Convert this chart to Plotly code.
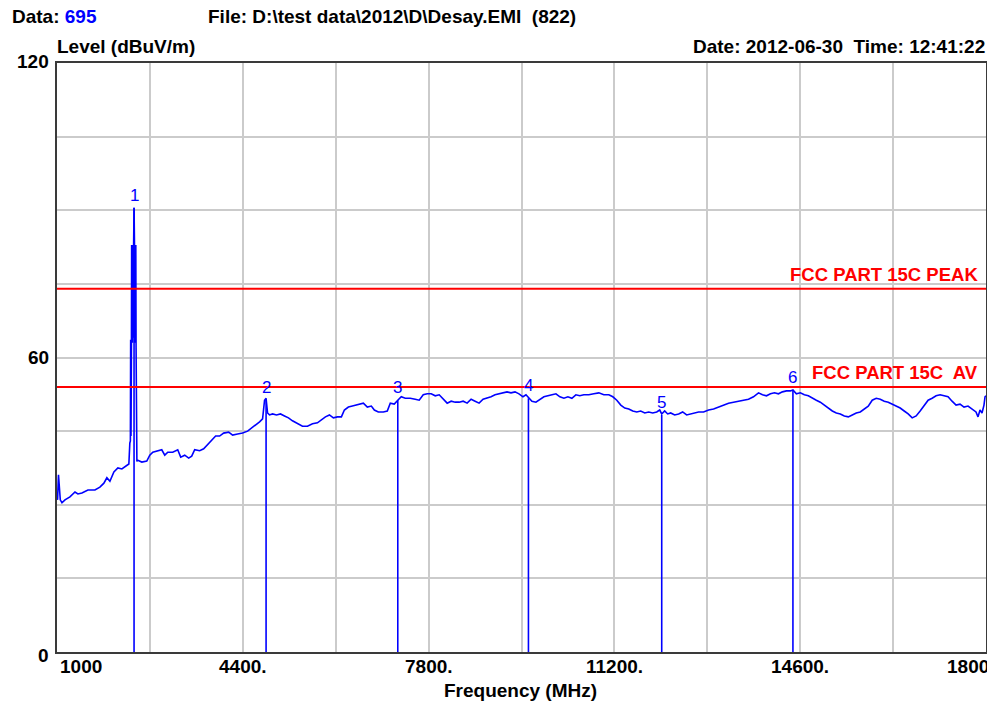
import plotly.graph_objects as go

# ---------------- data ----------------
freq_mhz = [1000, 1010, 1027, 1045, 1060, 1091, 1146, 1237, 1329, 1383, 1456, 1566, 1694, 1785, 1858,
            1913, 1968, 2041, 2114, 2187, 2260, 2315, 2333, 2343, 2348, 2354, 2362, 2366, 2372, 2378,
            2384, 2390, 2396, 2402, 2410, 2418, 2424, 2430, 2436, 2442, 2447, 2452, 2456, 2462, 2470,
            2552, 2643, 2698, 2753, 2844, 2917, 2972, 3027, 3118, 3209, 3264, 3337, 3410, 3465, 3520,
            3611, 3684, 3757, 3830, 3903, 3976, 4049, 4141, 4214, 4305, 4396, 4488, 4561, 4634, 4707,
            4762, 4798, 4826, 4853, 4889, 4944, 5017, 5090, 5163, 5236, 5309, 5401, 5492, 5583, 5675,
            5766, 5839, 5912, 5985, 6058, 6131, 6204, 6259, 6332, 6405, 6478, 6551, 6606, 6679, 6752,
            6807, 6880, 6971, 7044, 7099, 7172, 7236, 7300, 7373, 7464, 7555, 7628, 7702, 7775, 7848,
            7921, 7994, 8067, 8140, 8213, 8286, 8359, 8432, 8505, 8578, 8651, 8724, 8797, 8870, 8943,
            9016, 9089, 9162, 9235, 9308, 9381, 9454, 9527, 9582, 9627, 9691, 9764, 9837, 9910, 9983,
            10056, 10130, 10203, 10276, 10349, 10422, 10495, 10568, 10641, 10732, 10823, 10915, 11006,
            11098, 11171, 11244, 11317, 11390, 11463, 11536, 11609, 11682, 11755, 11828, 11901, 11974,
            12029, 12066, 12120, 12175, 12230, 12303, 12376, 12449, 12522, 12595, 12668, 12741, 12832,
            12924, 13015, 13106, 13197, 13289, 13380, 13471, 13563, 13654, 13745, 13837, 13910, 13983,
            14056, 14129, 14202, 14275, 14348, 14421, 14467, 14530, 14603, 14676, 14749, 14822, 14895,
            14968, 15041, 15115, 15188, 15261, 15334, 15407, 15480, 15553, 15626, 15699, 15772, 15845,
            15918, 15991, 16065, 16138, 16211, 16284, 16357, 16430, 16503, 16576, 16649, 16722, 16795,
            16868, 16941, 17014, 17087, 17160, 17233, 17306, 17379, 17452, 17525, 17598, 17671, 17744,
            17817, 17854, 17890, 17927, 17963, 17982, 18000]
level_dbuv = [31.6, 31.0, 36.1, 33.0, 31.0, 30.4, 31.0, 31.6, 32.6, 32.2, 32.4, 33.0, 33.0, 33.6, 34.4,
              35.5, 34.8, 36.7, 37.5, 37.3, 37.9, 38.3, 42.6, 43.0, 63.6, 44.0, 62.0, 82.9, 64.0, 82.9,
              63.0, 82.9, 64.0, 82.9, 90.5, 82.9, 63.0, 82.9, 64.0, 82.9, 62.0, 44.0, 60.9, 38.8, 39.1,
              38.7, 38.9, 40.1, 40.7, 41.0, 41.2, 40.1, 40.7, 40.7, 41.2, 39.7, 40.1, 39.5, 39.9, 41.2,
              41.0, 41.4, 42.2, 43.0, 44.0, 44.0, 44.6, 44.8, 44.2, 44.4, 44.6, 45.0, 45.6, 46.2, 46.9,
              47.5, 51.3, 51.7, 48.7, 48.3, 48.5, 48.3, 48.5, 48.1, 47.7, 47.1, 46.5, 46.0, 46.0, 46.5,
              46.7, 47.3, 47.9, 48.3, 47.7, 47.9, 47.9, 49.3, 49.9, 50.1, 50.3, 50.5, 50.7, 49.9, 50.1,
              49.3, 48.9, 48.9, 49.1, 50.7, 50.5, 51.3, 52.0, 51.7, 51.7, 51.5, 51.3, 52.4, 52.6, 52.6,
              52.2, 52.4, 51.5, 50.7, 51.1, 50.9, 50.9, 51.1, 50.7, 51.5, 51.1, 50.7, 51.5, 51.7, 52.0,
              52.4, 52.6, 52.8, 53.0, 52.8, 53.0, 52.6, 52.0, 52.4, 51.9, 51.1, 50.9, 51.5, 52.0, 52.2,
              52.4, 52.6, 52.0, 51.7, 52.0, 51.7, 52.4, 52.2, 52.4, 52.4, 52.6, 52.8, 52.4,
              52.4, 52.0, 51.3, 50.3, 49.7, 49.5, 49.1, 48.9, 49.1, 48.7, 48.9, 48.7, 48.9,
              49.3, 48.5, 49.1, 48.5, 48.7, 48.3, 48.5, 48.9, 48.3, 48.5, 48.7, 48.9, 48.9,
              49.3, 49.5, 49.9, 50.3, 50.7, 50.9, 51.1, 51.3, 51.5, 52.0, 52.8, 52.4, 52.2,
              52.6, 52.8, 52.6, 53.0, 53.2, 53.2, 53.4, 52.6, 52.8, 52.4, 52.2, 51.7, 51.3,
              50.9, 50.3, 49.7, 49.1, 48.7, 48.5, 48.1, 47.9, 48.3, 48.7, 48.9, 49.5, 50.1,
              51.3, 51.7, 51.5, 51.1, 50.9, 50.5, 50.1, 49.7, 49.1, 48.5, 47.7, 48.1, 49.1,
              50.3, 51.3, 51.7, 52.2, 52.4, 52.2, 52.0, 51.1, 50.3, 50.5, 49.9, 50.1, 49.5,
              48.9, 47.9, 49.3, 48.7, 50.3, 52.0, 52.2]

marker_ids = ["1", "2", "3", "4", "5", "6"]
marker_freq = [2410, 4826, 7236, 9627, 12066, 14467]
marker_level = [90.5, 51.3, 51.3, 51.7, 48.3, 53.4]

limit_names = ["FCC PART 15C PEAK", "FCC PART 15C\u00a0 AV"]
limit_levels = [74, 54]

x_tick_vals = [1000, 4400, 7800, 11200, 14600, 18000]
x_tick_text = ["1000", "4400.", "7800.", "11200.", "14600.", "18000"]
y_tick_vals = [0, 60, 120]
y_tick_text = ["0", "60", "120"]

data_no = "695"
file_text = "File: D:\\test data\\2012\\D\\Desay.EMI\u00a0 (822)"
date_text = "Date: 2012-06-30\u00a0 Time: 12:41:22"
y_title = "Level (dBuV/m)"
x_title = "Frequency (MHz)"

# ---------------- layout geometry (page pixels; page body has an 8px margin) ----------------
OFF = 8
W, H = 995 - OFF, 707 - OFF
L, R, T, B = 57 - OFF, 988 - OFF, 63 - OFF, 652 - OFF
PW, PH = R - L, B - T
FONT = "Liberation Sans, Arial, sans-serif"
BLUE = "#0000ff"
RED = "#ff0000"


def px(x):
    return (x - OFF - L) / PW


def py(y):
    return (B - (y - OFF)) / PH


fig = go.Figure()

# trace
fig.add_trace(go.Scatter(x=freq_mhz, y=level_dbuv, mode="lines",
                         line=dict(color=BLUE, width=1.6), hoverinfo="skip", showlegend=False))

# marker lines
mx, my = [], []
for f, v in zip(marker_freq, marker_level):
    mx += [f, f, None]
    my += [0, v, None]
fig.add_trace(go.Scatter(x=mx, y=my, mode="lines", line=dict(color=BLUE, width=1.6),
                         hoverinfo="skip", showlegend=False))

shapes = []
annotations = []

# limit lines
for name, lv in zip(limit_names, limit_levels):
    shapes.append(dict(type="line", xref="paper", x0=0, x1=1, yref="y", y0=lv, y1=lv,
                       line=dict(color=RED, width=2), layer="above"))
    annotations.append(dict(text=name, xref="paper", x=px(982), yref="y", y=lv,
                            xanchor="right", yanchor="bottom", yshift=2, showarrow=False,
                            font=dict(family=FONT, size=18.5, color=RED, weight="bold")))

# marker labels
for mid, f, v in zip(marker_ids, marker_freq, marker_level):
    annotations.append(dict(text=mid, x=f, y=v, xref="x", yref="y", xanchor="center",
                            yanchor="bottom", yshift=1, showarrow=False,
                            font=dict(family=FONT, size=17, color=BLUE)))

# x tick labels
for i, (v, t) in enumerate(zip(x_tick_vals, x_tick_text)):
    if i == 0:
        anchor, shift = "left", 1
    elif i == len(x_tick_vals) - 1:
        anchor, shift = "left", -41
    else:
        anchor, shift = "center", 0
    annotations.append(dict(text=t, x=v, xref="x", y=py(666), yref="paper",
                            xanchor=anchor, xshift=shift, yanchor="middle", showarrow=False,
                            font=dict(family=FONT, size=19, color="#000", weight="bold")))

# y tick labels
for v, t in zip(y_tick_vals, y_tick_text):
    annotations.append(dict(text=t, x=px(51), xref="paper", y=v, yref="y",
                            xanchor="right", yanchor="middle", showarrow=False,
                            yshift=(2 if v == 120 else (-3 if v == 0 else 0)),
                            font=dict(family=FONT, size=19, color="#000", weight="bold")))

# header texts
bold = dict(family=FONT, size=19, color="#000", weight="bold")
annotations += [
    dict(text="Data: <span style='color:#0000ff'>" + data_no + "</span>", x=px(10), y=py(16),
         xref="paper", yref="paper", xanchor="left", yanchor="middle", showarrow=False, font=bold),
    dict(text=file_text, x=px(206), y=py(16), xref="paper", yref="paper",
         xanchor="left", yanchor="middle", showarrow=False, font=bold),
    dict(text=y_title, x=px(55), y=py(46), xref="paper", yref="paper",
         xanchor="left", yanchor="middle", showarrow=False, font=bold),
    dict(text=date_text, x=px(989), y=py(46), xref="paper", yref="paper",
         xanchor="right", yanchor="middle", showarrow=False, font=bold),
    dict(text=x_title, x=px(521), y=py(690), xref="paper", yref="paper",
         xanchor="center", yanchor="middle", showarrow=False, font=bold),
]

fig.update_layout(
    width=W, height=H,
    margin=dict(l=L, r=W - R, t=T, b=H - B, pad=0),
    paper_bgcolor="white", plot_bgcolor="white",
    showlegend=False,
    shapes=shapes, annotations=annotations,
    xaxis=dict(range=[1000, 18000], tick0=1000, dtick=1700, showticklabels=False, ticks="",
               showgrid=True, gridcolor="#cbcbcb", gridwidth=2, zeroline=False,
               showline=True, mirror=True, linecolor="#3a3a3a", linewidth=2),
    yaxis=dict(range=[0, 120], tick0=0, dtick=15, showticklabels=False, ticks="",
               showgrid=True, gridcolor="#cbcbcb", gridwidth=2, zeroline=False,
               showline=True, mirror=True, linecolor="#3a3a3a", linewidth=2),
)

fig.write_html("out.html")
